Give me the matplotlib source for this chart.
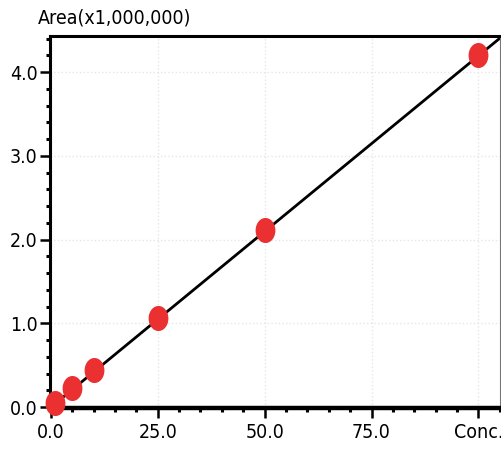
import numpy as np
import matplotlib.pyplot as plt
from matplotlib.path import Path
from matplotlib.ticker import MultipleLocator

# calibration points (conc, area x 1e6)
conc = [1, 5, 10, 25, 50, 100]
area = [0.05, 0.23, 0.44, 1.07, 2.12, 4.21]

x_ticks = [0, 25, 50, 75, 100]
x_labels = ['0.0', '25.0', '50.0', '75.0', 'Conc.']
y_ticks = [0, 1, 2, 3, 4]
y_labels = ['0.0', '1.0', '2.0', '3.0', '4.0']

plt.rcParams['font.family'] = ['DejaVu Sans']
plt.rcParams['font.stretch'] = 'condensed'

fig = plt.figure(figsize=(5.02, 4.54), dpi=100)
ax = fig.add_axes([0.0996, 0.1013, 0.896, 0.819])

# fitted line through origin
slope = np.polyfit(conc, area, 1)[0]
xs = np.array([0, 106])
ax.plot(xs, slope * xs, color='black', lw=2, zorder=2)

# slightly tall ellipse marker
t = np.linspace(0, 2 * np.pi, 60)
ell = Path(np.column_stack([0.78 * np.cos(t), np.sin(t)]), closed=True)
ax.plot(conc, area, ls='none', marker=ell, ms=17, color='#ea3031', mec='#ea3031', zorder=3, clip_on=False)

ax.set_xlim(-0.2, 105)
ax.set_ylim(-0.01, 4.43)

ax.set_xticks(x_ticks)
ax.set_xticklabels(x_labels)
ax.set_yticks(y_ticks)
ax.set_yticklabels(y_labels)
ax.xaxis.set_minor_locator(MultipleLocator(5))
ax.yaxis.set_minor_locator(MultipleLocator(0.2))

ax.tick_params(which='major', length=7, width=1.8, labelsize=14, pad=2, direction='out')
ax.tick_params(which='minor', length=3, width=2.2, direction='out')
ax.tick_params(axis='x', pad=4)

ax.grid(True, which='major', color='#e6e6e6', ls=':', lw=1)

ax.spines['left'].set_linewidth(2.2)
ax.spines['bottom'].set_linewidth(3.2)
ax.spines['top'].set_linewidth(2.2)
ax.spines['right'].set_linewidth(0.8)
ax.spines['right'].set_color('#777777')

fig.text(0.076, 0.96, 'Area(x1,000,000)', fontsize=14, va='center', ha='left')

fig.savefig('out.png', dpi=100)
